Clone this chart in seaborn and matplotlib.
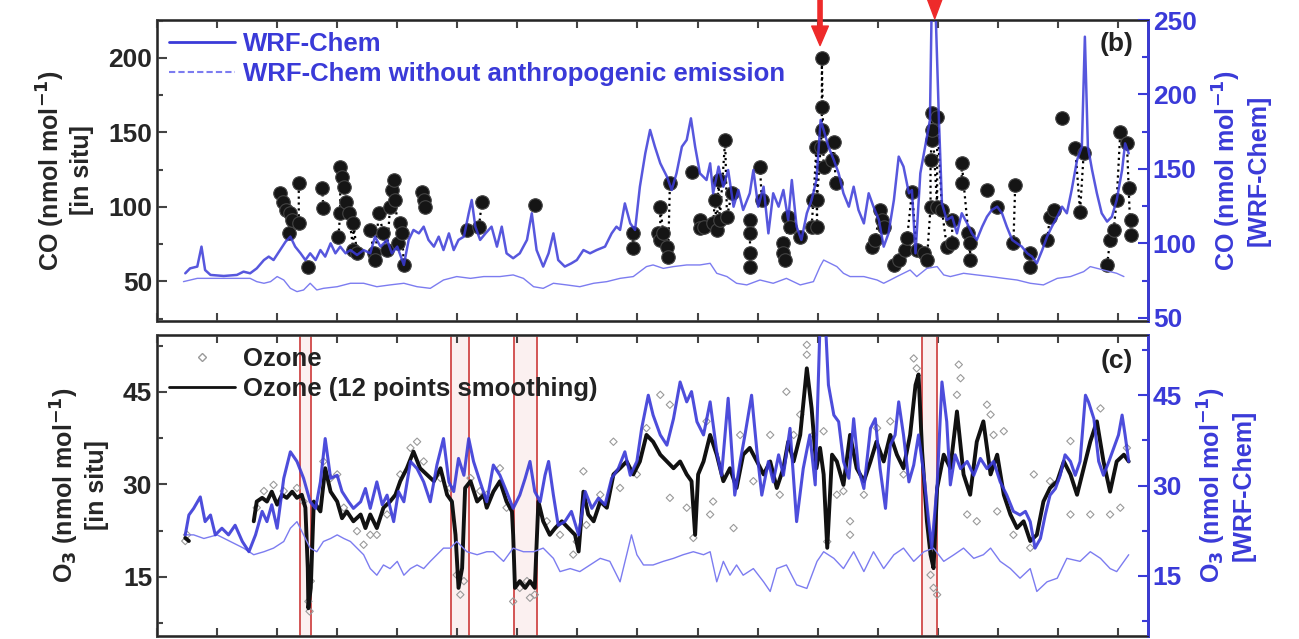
import numpy as np
import pandas as pd
import matplotlib
matplotlib.use("Agg")
import matplotlib.pyplot as plt
from matplotlib.lines import Line2D
from matplotlib.ticker import MultipleLocator
import seaborn as sns

sns.set_style("ticks")
plt.rcParams['font.family'] = ['Liberation Sans', 'DejaVu Sans']
plt.rcParams['font.weight'] = 'bold'
plt.rcParams['axes.labelweight'] = 'bold'
plt.rcParams['mathtext.default'] = 'bf'

# ---------------- panel (b): CO ----------------
wrf_co_day = [0.47, 0.55, 0.67, 0.74, 0.80, 0.89, 1.11, 1.33, 1.44, 1.55, 1.66, 1.78, 1.86, 1.94, 2.05, 2.14,
              2.22, 2.30, 2.39, 2.47, 2.55, 2.64, 2.72, 2.80, 2.89, 2.97, 3.05, 3.14, 3.22, 3.33, 3.44, 3.55,
              3.63, 3.72, 3.83, 3.91, 4.00, 4.11, 4.19, 4.27, 4.36, 4.44, 4.52, 4.61, 4.69, 4.77, 4.86, 4.94,
              5.02, 5.11, 5.19, 5.24, 5.30, 5.38, 5.47, 5.57, 5.66, 5.74, 5.82, 5.93, 6.04, 6.16, 6.24, 6.32,
              6.43, 6.52, 6.60, 6.68, 6.79, 6.90, 6.99, 7.10, 7.21, 7.32, 7.46, 7.57, 7.65, 7.71, 7.79, 7.88,
              7.96, 8.04, 8.13, 8.21, 8.29, 8.38, 8.49, 8.57, 8.65, 8.74, 8.82, 8.89, 8.96, 9.04, 9.15, 9.21,
              9.26, 9.35, 9.43, 9.51, 9.60, 9.68, 9.76, 9.87, 9.93, 10.01, 10.10, 10.18, 10.26, 10.35, 10.43,
              10.51, 10.57, 10.65, 10.73, 10.82, 10.90, 10.98, 11.05, 11.10, 11.18, 11.27, 11.35, 11.43, 11.52,
              11.60, 11.68, 11.77, 11.85, 11.93, 12.02, 12.10, 12.18, 12.27, 12.35, 12.43, 12.52, 12.57, 12.63,
              12.71, 12.79, 12.87, 12.90, 12.96, 13.02, 13.07, 13.15, 13.24, 13.32, 13.40, 13.49, 13.57, 13.65,
              13.74, 13.82, 13.90, 13.99, 14.07, 14.15, 14.24, 14.32, 14.40, 14.49, 14.57, 14.65, 14.74, 14.82,
              14.90, 14.99, 15.07, 15.15, 15.23, 15.32, 15.40, 15.45, 15.50, 15.57, 15.65, 15.73, 15.82, 15.90,
              15.98, 16.07, 16.12, 16.18]
wrf_co = [80.0, 83.3, 84.5, 97.9, 82.2, 78.9, 78.2, 78.9, 81.1, 80.0, 83.3, 88.9, 91.2, 88.9, 95.6, 101.2,
          104.6, 97.9, 93.4, 88.9, 93.4, 88.9, 95.6, 91.2, 100.1, 93.4, 97.9, 93.4, 95.6, 92.3, 95.6, 93.4,
          104.6, 97.9, 102.4, 93.4, 97.9, 85.6, 102.4, 109.1, 106.8, 111.3, 102.4, 97.9, 104.6, 95.6, 106.8, 95.6,
          102.4, 104.6, 120.3, 129.2, 111.3, 102.4, 106.8, 111.3, 97.9, 111.3, 93.4, 90.1, 93.4, 102.4, 120.3, 95.6,
          84.5, 93.4, 106.8, 88.9, 84.5, 86.7, 88.9, 95.6, 93.4, 95.6, 97.9, 106.8, 111.3, 109.1, 126.9, 113.5,
          109.1, 138.1, 160.5, 176.2, 165.0, 153.8, 144.9, 135.9, 147.1, 165.0, 169.5, 184.0, 165.0, 147.1, 142.6, 153.8,
          133.7, 151.6, 138.1, 149.3, 124.7, 135.9, 122.5, 133.7, 149.3, 124.7, 138.1, 106.8, 133.7, 124.7, 135.9,
          115.8, 142.6, 111.3, 102.4, 120.3, 129.2, 142.6, 182.9, 176.2, 165.0, 156.0, 147.1, 133.7, 124.7,
          138.1, 122.5, 113.5, 133.7, 124.7, 115.8, 97.9, 106.8, 129.2, 158.3, 151.6, 133.7, 135.9, 93.4,
          147.1, 165.0, 182.9, 262.0, 262.0, 182.9, 127.0, 115.8, 118.0, 106.8, 120.3, 113.5, 106.8, 102.4,
          111.3, 118.0, 122.5, 124.7, 120.3, 111.3, 102.4, 100.1, 97.9, 93.4, 91.2, 86.7, 95.6, 104.6,
          111.3, 118.0, 124.7, 120.3, 135.9, 156.0, 165.0, 238.8, 165.0, 149.3, 133.7, 120.3, 114.7, 118.0,
          129.2, 149.3, 167.2, 160.5]

noanth_co_day = [0.44, 0.67, 0.89, 1.11, 1.33, 1.55, 1.66, 1.78, 1.89, 2.00, 2.11, 2.22, 2.33, 2.44, 2.55, 2.66,
                 2.77, 3.00, 3.22, 3.44, 3.66, 3.88, 4.11, 4.33, 4.55, 4.77, 4.99, 5.22, 5.44, 5.71, 5.93, 6.10,
                 6.27, 6.43, 6.60, 6.82, 7.04, 7.27, 7.49, 7.71, 7.93, 8.15, 8.26, 8.43, 8.60, 8.82, 9.04, 9.21,
                 9.32, 9.49, 9.65, 9.82, 10.04, 10.26, 10.48, 10.71, 10.93, 11.04, 11.10, 11.21, 11.32, 11.43,
                 11.54, 11.77, 11.99, 12.10, 12.21, 12.32, 12.43, 12.54, 12.65, 12.82, 12.99, 13.10, 13.21, 13.43,
                 13.65, 13.88, 14.10, 14.32, 14.54, 14.76, 14.99, 15.21, 15.43, 15.54, 15.76, 15.98, 16.10]
noanth_co = [74.4, 76.6, 76.6, 76.6, 76.6, 76.6, 74.4, 73.3, 74.4, 77.8, 75.5, 69.9, 67.7, 68.8, 73.3, 68.8,
             69.9, 71.0, 73.3, 73.3, 71.0, 72.2, 73.3, 71.0, 69.9, 75.5, 77.8, 76.6, 77.8, 77.8, 78.9, 76.6,
             71.0, 69.9, 73.3, 72.2, 71.0, 73.3, 74.4, 76.6, 77.8, 84.5, 85.6, 83.3, 84.5, 85.6, 85.6, 86.7,
             80.0, 77.8, 73.3, 72.2, 75.5, 73.3, 76.6, 72.2, 74.4, 84.5, 88.9, 86.7, 84.5, 80.0,
             77.8, 77.8, 75.5, 73.3, 75.5, 77.8, 80.0, 82.2, 77.8, 83.3, 84.5, 78.9, 77.8, 80.0,
             78.9, 77.8, 76.6, 75.5, 73.3, 72.2, 76.6, 77.8, 81.1, 84.5, 82.2, 80.0, 77.8]

insitu_co_day = [2.05, 2.10, 2.14, 2.19, 2.22, 2.25, 2.36, 2.36, 2.52, 2.75, 2.77, 3.02, 3.05, 3.05, 3.08, 3.11,
                 3.14, 3.19, 3.27, 3.27, 3.33, 3.55, 3.61, 3.63, 3.69, 3.77, 3.83, 3.88, 3.91, 3.94, 3.97, 4.02,
                 4.05, 4.08, 4.11, 4.41, 4.44, 4.47, 5.16, 5.36, 5.41, 6.29, 7.93, 7.93, 8.35, 8.38, 8.38, 8.43,
                 8.49, 8.51, 8.54, 8.90, 9.04, 9.04, 9.10, 9.26, 9.29, 9.32, 9.35, 9.37, 9.46, 9.49, 9.57, 9.87,
                 9.87, 9.87, 9.87, 10.04, 10.07, 10.43, 10.43, 10.46, 10.51, 10.54, 10.71, 10.90, 10.93, 10.98,
                 10.99, 10.99, 11.05, 11.07, 11.07, 11.07, 11.10, 11.24, 11.27, 11.30, 11.91, 11.96, 12.04, 12.07,
                 12.10, 12.27, 12.35, 12.46, 12.49, 12.57, 12.65, 12.77, 12.82, 12.88, 12.88, 12.90, 12.90, 12.90,
                 12.99, 12.99, 13.07, 13.15, 13.24, 13.24, 13.40, 13.40, 13.51, 13.54, 13.54, 13.82, 13.99, 14.26,
                 14.29, 14.54, 14.54, 14.82, 14.87, 14.93, 15.07, 15.29, 15.37, 15.43, 15.82, 15.87, 15.93, 15.98,
                 16.04, 16.15, 16.18, 16.21, 16.21]
insitu_co = [109.2, 103.6, 98.0, 82.3, 95.8, 91.3, 89.1, 115.9, 60.0, 112.5, 99.1, 80.1, 127.1, 95.8, 120.4, 113.6,
             103.6, 95.8, 89.1, 71.1, 68.9, 84.6, 68.9, 64.4, 95.8, 82.3, 71.1, 100.2, 111.4, 118.1, 104.7, 75.6,
             89.1, 82.3, 61.1, 110.3, 104.7, 100.2, 84.6, 86.8, 103.6, 101.3, 82.3, 72.3, 82.3, 100.2, 77.9, 82.3,
             73.4, 66.7, 115.9, 123.7, 91.3, 85.7, 86.8, 89.1, 104.7, 84.6, 118.1, 91.3, 145.0, 93.5, 109.2, 91.3,
             82.3, 68.9, 60.0, 127.1, 104.7, 75.6, 68.9, 64.4, 93.5, 86.8, 80.1, 86.8, 104.7, 140.5,
             104.7, 86.8, 140.5, 199.8, 167.3, 151.7, 127.1, 131.5, 143.9, 115.9, 73.4, 77.9, 98.0, 91.3,
             86.8, 61.1, 64.4, 71.1, 79.0, 110.3, 71.1, 68.9, 64.4, 131.5, 100.2, 145.0, 151.7, 162.9,
             160.6, 100.2, 98.0, 73.4, 75.6, 91.3, 129.3, 115.9, 82.3, 75.6, 64.4, 111.4, 100.2, 75.6,
             114.8, 68.9, 60.0, 77.9, 93.5, 98.0, 159.5, 139.4, 96.9, 136.0, 61.1, 77.9, 84.6, 104.7,
             150.6, 142.8, 112.5, 91.3, 81.2]

# ---------------- panel (c): O3 ----------------
wrf_o3_day = [0.47, 0.53, 0.61, 0.72, 0.80, 0.89, 0.97, 1.08, 1.19, 1.30, 1.42, 1.53, 1.64, 1.75, 1.83, 1.91,
              2.00, 2.11, 2.22, 2.33, 2.44, 2.55, 2.64, 2.72, 2.80, 2.89, 3.00, 3.08, 3.19, 3.27, 3.39, 3.47,
              3.55, 3.66, 3.75, 3.83, 3.94, 4.02, 4.11, 4.22, 4.33, 4.44, 4.55, 4.66, 4.77, 4.86, 4.94, 5.02,
              5.11, 5.19, 5.27, 5.38, 5.49, 5.60, 5.71, 5.82, 5.93, 6.04, 6.13, 6.21, 6.29, 6.38, 6.46, 6.52,
              6.60, 6.68, 6.79, 6.90, 7.02, 7.13, 7.24, 7.35, 7.46, 7.57, 7.68, 7.79, 7.88, 7.99, 8.07, 8.18,
              8.26, 8.38, 8.49, 8.60, 8.71, 8.82, 8.90, 8.99, 9.10, 9.21, 9.32, 9.40, 9.51, 9.62, 9.71, 9.79,
              9.90, 9.99, 10.07, 10.18, 10.26, 10.35, 10.43, 10.54, 10.65, 10.76, 10.87, 10.96, 11.04, 11.07,
              11.13, 11.18, 11.27, 11.35, 11.43, 11.52, 11.60, 11.68, 11.77, 11.88, 11.96, 12.04, 12.13, 12.21,
              12.29, 12.35, 12.43, 12.52, 12.60, 12.68, 12.77, 12.85, 12.90, 12.99, 13.07, 13.15, 13.21, 13.29,
              13.38, 13.49, 13.60, 13.71, 13.82, 13.93, 14.04, 14.15, 14.26, 14.37, 14.46, 14.54, 14.62, 14.71,
              14.79, 14.87, 14.96, 15.04, 15.12, 15.21, 15.29, 15.37, 15.46, 15.51, 15.60, 15.68, 15.76, 15.85,
              15.93, 16.01, 16.07, 16.12, 16.18]
wrf_o3 = [21.8, 25.1, 26.2, 28.1, 24.0, 25.1, 21.8, 22.9, 21.8, 23.4, 20.7, 19.0, 21.8, 25.7, 24.0, 26.8,
          22.9, 31.2, 35.6, 34.0, 31.2, 27.3, 26.2, 30.6, 37.8, 31.2, 31.7, 29.0, 27.3, 26.2, 27.3, 29.5,
          26.2, 30.6, 26.8, 28.4, 24.0, 29.0, 27.3, 34.0, 32.8, 30.6, 27.3, 33.4, 37.8, 30.6, 29.0, 34.5,
          31.7, 37.8, 34.0, 30.6, 27.3, 33.4, 31.7, 29.0, 26.2, 28.4, 31.2, 34.0, 29.0, 27.3, 31.7, 34.0,
          28.4, 23.4, 24.0, 25.7, 21.8, 29.0, 26.2, 27.9, 26.8, 31.2, 32.8, 35.6, 31.7, 34.0, 39.5, 45.0,
          41.7, 38.4, 36.7, 41.1, 47.2, 43.9, 45.6, 40.6, 38.4, 43.9, 35.6, 31.7, 44.5, 28.4, 34.0, 38.4,
          45.0, 35.6, 28.4, 34.0, 30.6, 35.1, 31.7, 39.5, 24.0, 32.8, 38.4, 30.1, 57.0, 57.0,
          57.0, 46.7, 41.7, 40.6, 34.0, 31.2, 41.1, 32.8, 29.5, 39.5, 41.1, 32.8, 26.2, 36.7,
          38.4, 43.9, 38.4, 30.6, 33.4, 38.4, 31.7, 24.0, 19.6, 30.1, 47.2, 40.6, 30.1, 35.1,
          32.8, 34.0, 31.7, 34.5, 32.8, 34.0, 30.6, 28.4, 25.7, 25.1, 25.7, 24.0, 19.6, 21.2,
          25.1, 28.4, 29.5, 31.7, 35.1, 34.0, 31.7, 34.0, 45.0, 43.9, 41.1, 34.0, 31.7, 34.0,
          36.2, 38.4, 41.7, 38.4, 34.0]

noanth_o3_day = [0.47, 0.61, 0.78, 1.00, 1.22, 1.44, 1.61, 1.78, 1.94, 2.11, 2.22, 2.33, 2.44, 2.55, 2.66, 2.77,
                 2.89, 3.00, 3.11, 3.22, 3.33, 3.44, 3.55, 3.66, 3.77, 3.88, 4.00, 4.11, 4.22, 4.33, 4.44, 4.55,
                 4.66, 4.77, 4.88, 4.99, 5.16, 5.33, 5.49, 5.60, 5.77, 5.93, 6.10, 6.27, 6.43, 6.60, 6.71, 6.88,
                 7.04, 7.21, 7.38, 7.54, 7.71, 7.82, 7.90, 7.99, 8.10, 8.26, 8.43, 8.60, 8.76, 8.93, 9.10, 9.21,
                 9.32, 9.43, 9.54, 9.65, 9.76, 9.93, 10.10, 10.21, 10.32, 10.48, 10.65, 10.82, 10.99, 11.10,
                 11.27, 11.43, 11.60, 11.77, 11.93, 12.10, 12.27, 12.43, 12.60, 12.77, 12.93, 13.10, 13.27, 13.43,
                 13.60, 13.76, 13.88, 14.04, 14.21, 14.37, 14.54, 14.65, 14.82, 14.99, 15.15, 15.37, 15.54, 15.71,
                 15.87, 15.98, 16.18]
noanth_o3 = [21.8, 21.8, 21.2, 21.8, 20.7, 19.6, 18.5, 19.0, 19.6, 20.7, 22.9, 24.0, 21.8, 19.6, 19.0, 20.7,
             21.2, 21.8, 21.2, 20.7, 19.6, 18.5, 16.2, 15.1, 16.8, 16.2, 17.4, 15.1, 16.2, 16.8, 16.2, 17.4,
             18.5, 19.6, 19.6, 20.7, 19.0, 18.5, 19.0, 19.0, 17.4, 19.6, 19.0, 19.0, 19.6, 17.9, 15.7, 16.2,
             15.7, 16.8, 17.9, 17.4, 14.0, 18.5, 21.8, 18.5, 16.8, 16.8, 17.4, 17.9, 18.5, 19.0, 18.5, 19.0,
             14.0, 17.4, 15.1, 16.8, 15.1, 16.2, 14.0, 12.4, 16.2, 16.8, 13.5, 12.9, 17.4, 19.0,
             17.9, 16.2, 19.0, 15.7, 19.0, 16.2, 18.5, 19.6, 17.4, 19.0, 19.6, 17.4, 18.5, 19.6,
             17.9, 18.5, 19.6, 17.4, 16.2, 14.6, 16.2, 12.4, 14.0, 14.6, 17.9, 17.4, 19.0, 17.9,
             16.2, 15.7, 18.5]

smooth_o3_day = [0.47, 0.53, 1.61, 1.66, 1.75, 1.83, 1.91, 2.00, 2.08, 2.16, 2.25, 2.33, 2.41, 2.47, 2.51, 2.52,
                 2.56, 2.61, 2.72, 2.80, 2.89, 3.00, 3.08, 3.16, 3.27, 3.39, 3.47, 3.55, 3.66, 3.77, 3.88, 3.97,
                 4.05, 4.16, 4.27, 4.38, 4.49, 4.61, 4.72, 4.83, 4.91, 4.97, 5.02, 5.08, 5.13, 5.22, 5.33, 5.44,
                 5.49, 5.60, 5.71, 5.82, 5.91, 5.93, 5.96, 6.04, 6.13, 6.21, 6.29, 6.35, 6.43, 6.54, 6.63, 6.74,
                 6.85, 6.96, 7.02, 7.10, 7.18, 7.27, 7.38, 7.49, 7.60, 7.71, 7.82, 7.93, 8.04, 8.15, 8.26, 8.38,
                 8.49, 8.60, 8.71, 8.82, 8.90, 8.96, 9.01, 9.10, 9.21, 9.32, 9.43, 9.54, 9.65, 9.76, 9.87, 9.99,
                 10.10, 10.21, 10.32, 10.43, 10.51, 10.60, 10.71, 10.82, 10.90, 10.98, 11.04, 11.10, 11.16, 11.24,
                 11.32, 11.43, 11.54, 11.65, 11.77, 11.88, 11.98, 12.10, 12.21, 12.32, 12.43, 12.54, 12.63, 12.68,
                 12.74, 12.82, 12.88, 12.93, 12.99, 13.10, 13.21, 13.32, 13.43, 13.54, 13.65, 13.76, 13.88, 13.99,
                 14.10, 14.21, 14.32, 14.43, 14.54, 14.65, 14.76, 14.87, 14.99, 15.10, 15.21, 15.32, 15.43, 15.54,
                 15.65, 15.76, 15.87, 15.98, 16.10, 16.18]
smooth_o3 = [21.3, 20.8, 24.0, 27.2, 27.8, 27.2, 28.8, 26.7, 28.3, 27.8, 28.8, 27.8, 28.3, 26.2, 16.4, 9.9,
             13.2, 27.2, 25.6, 32.6, 28.8, 27.2, 24.5, 25.6, 24.0, 25.1, 22.9, 25.1, 22.9, 26.2, 27.2, 28.3,
             30.5, 32.6, 35.3, 32.6, 31.6, 30.5, 32.6, 28.3, 27.2, 21.8, 13.2, 16.4, 29.4, 30.5, 27.2, 28.3,
             26.2, 28.8, 30.5, 27.2, 25.6, 21.8, 13.2, 14.3, 13.2, 14.3, 13.2, 27.2, 24.0, 21.8, 22.9, 24.0,
             22.9, 21.8, 19.1, 28.8, 25.1, 24.0, 27.2, 26.2, 31.6, 32.6, 33.7, 31.6, 33.7, 38.0, 36.9, 34.8,
             33.7, 32.6, 33.7, 31.6, 30.5, 21.8, 31.6, 33.7, 38.0, 34.8, 30.5, 32.6, 29.4, 34.8, 35.9, 33.7,
             31.6, 33.7, 29.4, 32.6, 36.9, 33.7, 38.0, 48.8, 42.3, 32.6, 35.9, 31.6, 19.7, 34.8,
             33.7, 29.9, 38.0, 32.6, 30.5, 33.7, 36.9, 33.7, 38.0, 34.8, 32.6, 38.0, 46.1, 47.8,
             35.3, 24.0, 18.6, 16.4, 29.4, 34.8, 32.6, 41.8, 31.6, 28.3, 36.9, 40.2, 31.6, 34.8,
             28.3, 25.1, 22.9, 24.0, 20.8, 21.8, 27.2, 29.4, 30.5, 33.7, 31.6, 28.3, 32.6, 36.9,
             40.2, 33.7, 28.8, 33.7, 34.8, 33.7]

raw_o3_day = [0.47, 0.50, 1.66, 1.78, 1.94, 2.11, 2.33, 2.44, 2.52, 2.54, 2.56, 2.77, 2.89, 3.00, 3.11, 3.33,
              3.44, 3.55, 3.66, 3.83, 4.05, 4.22, 4.33, 4.44, 4.72, 4.88, 4.99, 5.05, 5.11, 5.22, 5.38, 5.49,
              5.71, 5.82, 5.93, 6.04, 6.16, 6.21, 6.29, 6.49, 6.71, 6.93, 6.99, 7.10, 7.15, 7.38, 7.60, 7.71,
              7.99, 8.15, 8.38, 8.54, 8.54, 8.82, 8.93, 9.15, 9.21, 9.26, 9.60, 9.71, 9.93, 10.21, 10.37, 10.48,
              10.60, 10.71, 10.82, 10.82, 10.93, 11.10, 11.16, 11.32, 11.43, 11.54, 11.54, 11.77, 11.99, 12.21,
              12.43, 12.60, 12.65, 12.88, 12.93, 12.99, 13.32, 13.35, 13.38, 13.49, 13.65, 13.82, 13.88, 13.93,
              13.99, 14.10, 14.26, 14.54, 14.60, 14.87, 15.21, 15.21, 15.54, 15.71, 15.87, 16.04, 16.15]
raw_o3 = [20.8, 21.8, 26.2, 28.9, 29.9, 28.9, 29.4, 27.2, 11.0, 9.4, 14.3, 33.7, 31.0, 31.6, 26.2, 22.4,
          20.2, 21.8, 21.8, 25.1, 31.6, 35.9, 36.9, 33.7, 31.0, 29.4, 15.3, 12.1, 14.3, 31.0, 28.9, 28.3,
          32.6, 26.2, 11.0, 13.2, 14.3, 11.6, 12.1, 24.0, 21.8, 18.6, 20.7, 32.1, 23.4, 28.3, 36.9, 29.4,
          31.6, 39.1, 44.5, 42.9, 27.8, 26.2, 21.3, 40.2, 25.1, 27.2, 22.9, 38.0, 30.5, 38.0, 28.3, 45.0,
          38.0, 41.3, 51.0, 52.6, 38.0, 38.6, 20.7, 28.3, 28.9, 24.0, 21.8, 28.3, 39.1, 40.2,
          31.6, 50.4, 48.8, 15.3, 13.2, 12.1, 44.5, 49.4, 47.2, 25.1, 24.0, 42.9, 41.3, 38.0,
          25.6, 38.6, 21.8, 19.7, 31.6, 30.5, 37.0, 25.1, 25.1, 42.3, 25.1, 26.2, 35.9]

# time windows highlighted in red
event_start = [2.38, 4.89, 5.94, 12.74]
event_end = [2.56, 5.19, 6.33, 12.99]
# red arrows above panel (b)
arrow_day = [11.04, 12.95]

blue = '#3a3ad8'
light_blue = '#7c7cf0'
red = '#d04848'

# ---- data frames ----
co_wrf = pd.DataFrame({'day': wrf_co_day, 'co': wrf_co})
co_noanth = pd.DataFrame({'day': noanth_co_day, 'co': noanth_co})
co_obs = pd.DataFrame({'day': insitu_co_day, 'co': insitu_co}).sort_values('day')
co_obs['seg'] = (co_obs['day'].diff() > 0.12).cumsum()

o3_wrf = pd.DataFrame({'day': wrf_o3_day, 'o3': wrf_o3})
o3_noanth = pd.DataFrame({'day': noanth_o3_day, 'o3': noanth_o3})
o3_smooth = pd.DataFrame({'day': smooth_o3_day, 'o3': smooth_o3})
o3_smooth['seg'] = (o3_smooth['day'].diff() > 0.5).cumsum()
o3_raw = pd.DataFrame({'day': raw_o3_day, 'o3': raw_o3})

fig = plt.figure(figsize=(12.99, 6.39), dpi=100)
ax1 = fig.add_axes([0.1209, 0.4977, 0.7628, 0.4710])
ax2 = fig.add_axes([0.1209, 0.0047, 0.7628, 0.4710])
ax1r = ax1.twinx()
ax2r = ax2.twinx()

# ---- panel (b) ----
sns.lineplot(data=co_obs, x='day', y='co', units='seg', estimator=None, color='black',
             linestyle=':', lw=1.6, ax=ax1, legend=False)
sns.scatterplot(data=co_obs, x='day', y='co', color='#151515', edgecolor='#444444',
                s=95, linewidth=0.8, ax=ax1, legend=False, zorder=3)
sns.lineplot(data=co_noanth, x='day', y='co', color=light_blue, lw=1.0, ax=ax1r, legend=False)
sns.lineplot(data=co_wrf, x='day', y='co', color=blue, lw=1.8, alpha=0.85, ax=ax1r, legend=False)

# ---- panel (c) ----
for s, e in zip(event_start, event_end):
    ax2.axvspan(s, e, color='#f7dede', alpha=0.45, zorder=0, lw=0)
    ax2.axvline(s, color=red, lw=1.3, zorder=1)
    ax2.axvline(e, color=red, lw=1.3, zorder=1)
sns.scatterplot(data=o3_raw, x='day', y='o3', marker='D', s=14, facecolor='none',
                edgecolor='#9a9a9a', linewidth=0.8, ax=ax2, legend=False)
sns.lineplot(data=o3_smooth, x='day', y='o3', units='seg', estimator=None, color='#111111',
             lw=2.8, ax=ax2, legend=False)
sns.lineplot(data=o3_noanth, x='day', y='o3', color=light_blue, lw=1.0, ax=ax2r, legend=False)
sns.lineplot(data=o3_wrf, x='day', y='o3', color=blue, lw=2.2, alpha=0.9, ax=ax2r, legend=False)

# ---- axes styling ----
for ax in (ax1, ax2):
    ax.set_xlim(0, 16.5)
    ax.xaxis.set_major_locator(MultipleLocator(1))
    ax.tick_params(axis='x', direction='in', top=True, labelbottom=False, length=6, width=1.5,
                   color='#444444')
    ax.tick_params(axis='y', which='both', direction='in', labelsize=19, width=1.5, color='#444444')
    ax.tick_params(axis='y', which='major', length=7)
    ax.tick_params(axis='y', which='minor', length=4)
    ax.set_xlabel('')
    for sp in ax.spines.values():
        sp.set_linewidth(2)
        sp.set_color('#444444')
for ax in (ax1r, ax2r):
    ax.tick_params(axis='y', which='both', direction='in', labelsize=19, width=1.5,
                   color=blue, labelcolor=blue)
    ax.tick_params(axis='y', which='major', length=7)
    ax.tick_params(axis='y', which='minor', length=4)
    ax.spines['right'].set_color(blue)
    ax.spines['right'].set_linewidth(2)
    ax.set_xlabel('')

ax1.set_ylim(23.5, 225.5)
ax1.yaxis.set_major_locator(MultipleLocator(50))
ax1.yaxis.set_minor_locator(MultipleLocator(25))
ax1r.set_ylim(48, 250)
ax1r.yaxis.set_major_locator(MultipleLocator(50))
ax1r.yaxis.set_minor_locator(MultipleLocator(25))

ax2.set_ylim(5.4, 54.2)
ax2.set_yticks([15, 30, 45])
ax2.set_yticks([7.5, 22.5, 37.5, 52.5], minor=True)
ax2r.set_ylim(5.0, 55.0)
ax2r.set_yticks([15, 30, 45])
ax2r.set_yticks([7.5, 22.5, 37.5, 52.5], minor=True)

lab = dict(fontsize=18, fontweight='bold')
ax1.set_ylabel('CO (nmol mol$^{-1}$)\n[in situ]', labelpad=10, **lab)
ax2.set_ylabel('O$_3$ (nmol mol$^{-1}$)\n[in situ]', labelpad=10, **lab)
ax1r.set_ylabel('CO (nmol mol$^{-1}$)\n[WRF-Chem]', labelpad=10, color=blue, **lab)
ax2r.set_ylabel('O$_3$ (nmol mol$^{-1}$)\n[WRF-Chem]', labelpad=10, color=blue, **lab)

ax1.text(0.985, 0.92, '(b)', transform=ax1.transAxes, ha='right', va='center', fontsize=19,
         fontweight='bold', color='#222222')
ax2.text(0.985, 0.915, '(c)', transform=ax2.transAxes, ha='right', va='center', fontsize=19,
         fontweight='bold', color='#222222')

# legends
h1 = [Line2D([], [], color=blue, lw=2),
      Line2D([], [], color=light_blue, lw=1.5, linestyle=(0, (3, 1.5)))]
leg1 = ax1r.legend(h1, ['WRF-Chem', 'WRF-Chem without anthropogenic emission'], loc='upper left',
                   frameon=False, fontsize=18.5, handlelength=2.6, handletextpad=0.3,
                   borderaxespad=0.05, labelspacing=0.25)
for t in leg1.get_texts():
    t.set_color(blue)
    t.set_fontweight('bold')

h2 = [Line2D([], [], marker='D', color='#9a9a9a', markerfacecolor='none', linestyle='none', markersize=4),
      Line2D([], [], color='#111111', lw=2)]
leg2 = ax2r.legend(h2, ['Ozone', 'Ozone (12 points smoothing)'], loc='upper left', frameon=False,
                   fontsize=18.5, handlelength=2.6, handletextpad=0.3, borderaxespad=0.05,
                   labelspacing=0.25)
for t in leg2.get_texts():
    t.set_color('#222222')
    t.set_fontweight('bold')

# red arrows at the top of panel (b)
ax1r.annotate('', xy=(arrow_day[0], 231), xycoords='data', xytext=(arrow_day[0], 1.08),
              textcoords=('data', 'axes fraction'), annotation_clip=False,
              arrowprops=dict(arrowstyle='simple,head_width=0.6,head_length=0.7,tail_width=0.15',
                              color='#ee2a2a', mutation_scale=20))
ax1r.annotate('', xy=(arrow_day[1], 249), xycoords='data', xytext=(arrow_day[1], 1.12),
              textcoords=('data', 'axes fraction'), annotation_clip=False,
              arrowprops=dict(arrowstyle='simple,head_width=0.6,head_length=0.8,tail_width=0.15',
                              color='#ee2a2a', mutation_scale=20))

fig.savefig('out.png', dpi=100)
